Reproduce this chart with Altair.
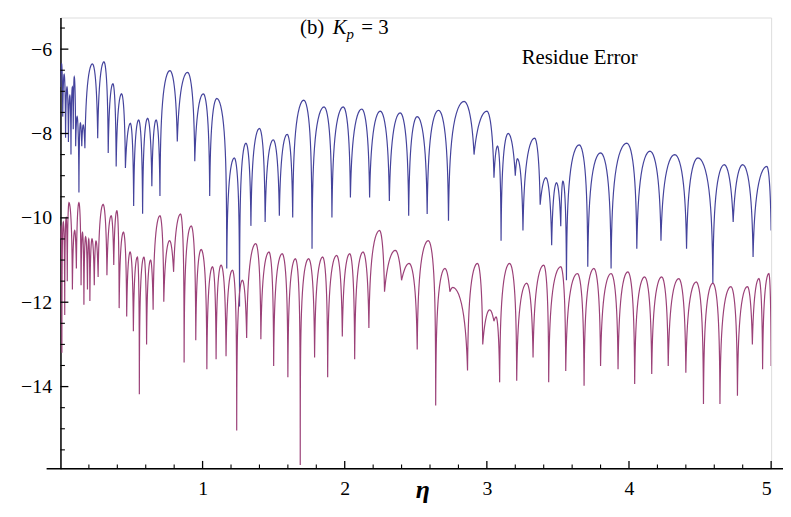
import altair as alt
import pandas as pd

# ---------------- data ----------------
# Blue curve: cusp (dip) positions / depths and the arch tops between them
blue_dip_x = [0.000, 0.016, 0.036, 0.056, 0.074, 0.090, 0.107, 0.130, 0.150, 0.172,
              0.262, 0.336, 0.392, 0.457, 0.515, 0.578, 0.643, 0.700, 0.822, 0.945,
              1.050, 1.170, 1.260, 1.340, 1.440, 1.540, 1.634, 1.770, 1.910, 2.040,
              2.175, 2.314, 2.450, 2.580, 2.730, 2.910, 3.050, 3.100, 3.200, 3.254,
              3.375, 3.456, 3.520, 3.560, 3.710, 3.874, 4.055, 4.225, 4.405, 4.590,
              4.733, 4.873, 5.000]
blue_dip_y = [-6.90, -7.60, -8.10, -8.20, -8.50, -7.90, -8.30, -9.40, -8.30, -8.35,
              -8.11, -8.46, -8.78, -8.82, -9.72, -9.90, -9.25, -9.48, -8.19, -8.66,
              -9.48, -11.20, -12.10, -10.19, -10.10, -9.95, -9.99, -10.73, -9.99, -9.52,
              -9.52, -9.60, -9.95, -9.91, -10.07, -8.50, -9.05, -10.54, -9.00, -10.30,
              -9.69, -10.65, -10.20, -11.48, -11.16, -11.20, -10.73, -10.54, -10.73, -11.55,
              -10.10, -10.93, -10.30]
blue_peak_x = [0.008, 0.026, 0.046, 0.066, 0.084, 0.097, 0.117, 0.140, 0.160, 0.225,
               0.306, 0.369, 0.430, 0.492, 0.550, 0.613, 0.673, 0.770, 0.894, 1.005,
               1.100, 1.223, 1.305, 1.400, 1.497, 1.595, 1.712, 1.855, 1.990, 2.120,
               2.250, 2.390, 2.510, 2.660, 2.840, 3.000, 3.075, 3.150, 3.215, 3.336,
               3.415, 3.490, 3.535, 3.650, 3.800, 3.985, 4.148, 4.322, 4.485, 4.670,
               4.800, 4.970]
blue_peak_y = [-6.35, -6.60, -6.90, -7.10, -6.90, -6.66, -7.60, -7.75, -7.80, -6.35,
               -6.30, -6.82, -7.06, -7.76, -7.68, -7.64, -7.68, -6.51, -6.55, -7.06,
               -7.17, -8.58, -8.23, -7.88, -8.15, -8.02, -7.21, -7.37, -7.37, -7.42,
               -7.47, -7.51, -7.60, -7.45, -7.24, -7.47, -8.30, -8.00, -8.60, -8.11,
               -9.05, -9.17, -9.13, -8.27, -8.46, -8.23, -8.42, -8.50, -8.58, -8.74,
               -8.74, -8.78]

# Purple curve
purple_dip_x = [0.000, 0.010, 0.030, 0.048, 0.084, 0.112, 0.145, 0.165, 0.190, 0.207,
                0.238, 0.265, 0.327, 0.375, 0.413, 0.466, 0.513, 0.555, 0.606, 0.652,
                0.727, 0.796, 0.870, 0.952, 1.030, 1.095, 1.165, 1.240, 1.310, 1.410,
                1.500, 1.600, 1.687, 1.788, 1.880, 1.983, 2.070, 2.170, 2.280, 2.400,
                2.510, 2.640, 2.740, 2.864, 2.971, 3.050, 3.090, 3.210, 3.325, 3.435,
                3.555, 3.684, 3.800, 3.923, 4.040, 4.160, 4.276, 4.400, 4.524, 4.640,
                4.763, 4.868, 4.940, 5.000]
purple_dip_y = [-10.50, -13.20, -12.30, -11.50, -11.70, -11.20, -11.60, -12.06, -11.70, -11.97,
                -11.60, -11.40, -11.36, -11.12, -12.14, -12.34, -12.69, -14.18, -13.00, -12.18,
                -11.99, -11.28, -13.43, -12.90, -13.59, -13.35, -13.28, -15.04, -12.85, -12.88,
                -13.51, -13.78, -15.86, -13.31, -13.78, -12.81, -13.35, -12.61, -11.75, -11.48,
                -13.12, -14.45, -11.75, -13.62, -13.00, -12.45, -13.90, -13.86, -13.31, -13.90,
                -13.63, -13.98, -13.51, -13.59, -13.94, -13.70, -13.51, -13.67, -14.41, -14.41,
                -14.22, -13.00, -13.59, -13.51]
purple_peak_x = [0.004, 0.020, 0.040, 0.060, 0.100, 0.130, 0.155, 0.177, 0.199, 0.222,
                 0.250, 0.300, 0.357, 0.397, 0.443, 0.490, 0.541, 0.587, 0.634, 0.700,
                 0.768, 0.845, 0.920, 0.990, 1.070, 1.130, 1.210, 1.280, 1.374, 1.467,
                 1.560, 1.653, 1.746, 1.845, 1.943, 2.035, 2.129, 2.245, 2.356, 2.453,
                 2.588, 2.705, 2.760, 2.934, 3.020, 3.065, 3.160, 3.280, 3.400, 3.520,
                 3.637, 3.753, 3.874, 3.992, 4.110, 4.230, 4.350, 4.473, 4.590, 4.717,
                 4.833, 4.914, 4.984]
purple_peak_y = [-10.20, -10.10, -10.00, -9.64, -10.30, -9.64, -10.35, -10.45, -10.50, -10.50,
                 -10.55, -9.68, -9.95, -9.83, -10.34, -10.81, -10.93, -10.93, -11.00, -9.95,
                 -10.54, -9.91, -10.19, -10.75, -11.16, -11.12, -11.24, -11.48, -10.61, -10.81,
                 -10.85, -10.97, -10.97, -10.93, -10.89, -10.85, -10.81, -10.30, -10.77, -11.08,
                 -10.54, -11.20, -11.65, -11.08, -12.18, -12.35, -11.08, -11.55, -11.12, -11.16,
                 -11.32, -11.20, -11.32, -11.28, -11.40, -11.40, -11.44, -11.52, -11.55, -11.63,
                 -11.63, -11.44, -11.32]

series_names = ["blue", "purple"]
series_colors = ["#44439c", "#9b4178"]

x_major = [1, 2, 3, 4, 5]
x_minor = [0.2, 0.4, 0.6, 0.8, 1.2, 1.4, 1.6, 1.8, 2.2, 2.4, 2.6, 2.8,
           3.2, 3.4, 3.6, 3.8, 4.2, 4.4, 4.6, 4.8]
y_major = [-14, -12, -10, -8, -6]
y_minor = [-15.5, -15, -14.5, -13.5, -13, -12.5, -11.5, -11, -10.5,
           -9.5, -9, -8.5, -7.5, -7, -6.5, -5.5]

W, H = 718, 456
X_DOMAIN = [0, 5]
Y_DOMAIN = [-15.95, -5.25]
SERIF = "Liberation Serif"

# ---------------- arch table (one row per arch between two cusps) ----------------
rows = []
for name, dx, dy, px, py in [("blue", blue_dip_x, blue_dip_y, blue_peak_x, blue_peak_y),
                             ("purple", purple_dip_x, purple_dip_y, purple_peak_x, purple_peak_y)]:
    for i in range(len(px)):
        rows.append({"series": name, "idx": i,
                     "x0": dx[i], "x1": dx[i + 1], "y0": dy[i], "y1": dy[i + 1],
                     "xp": px[i], "yp": py[i]})
arch_df = pd.DataFrame(rows)

# sampling of each arch (drawing resolution only)
half = [0, 0.001, 0.004, 0.01, 0.02, 0.035, 0.055, 0.08, 0.11, 0.15, 0.2, 0.26,
        0.33, 0.41, 0.5, 0.6, 0.7, 0.8, 0.9, 1.0]
samples = half + [round(2 - v, 4) for v in reversed(half[:-1])]
u_expr = "[" + ",".join(str(v) for v in samples) + "]"

xs = alt.Scale(domain=X_DOMAIN, nice=False, zero=False)
ys = alt.Scale(domain=Y_DOMAIN, nice=False, zero=False)

lines = (
    alt.Chart(arch_df)
    .transform_calculate(u=u_expr)
    .transform_flatten(["u"])
    .transform_calculate(
        e0="pow(10, (datum.y0 - datum.yp)/2)",
        e1="pow(10, (datum.y1 - datum.yp)/2)",
    )
    .transform_calculate(
        x="datum.u <= 1 ? datum.x0 + datum.u*(datum.xp - datum.x0) : datum.xp + (datum.u - 1)*(datum.x1 - datum.xp)",
        y="datum.u <= 1 ? datum.yp + 2*log(datum.e0 + (1 - datum.e0)*sin(PI/2*datum.u))/LN10 : datum.yp + 2*log(datum.e1 + (1 - datum.e1)*sin(PI/2*(2 - datum.u)))/LN10",
        k="datum.idx*3 + datum.u",
    )
    .mark_line(strokeWidth=1.2, clip=True)
    .encode(
        x=alt.X("x:Q", scale=xs,
                axis=alt.Axis(values=x_major, format="d", title=None, grid=False,
                              ticks=False, tickSize=0, domain=False,
                              labelFont=SERIF, labelFontSize=20, labelColor="black",
                              labelPadding=10)),
        y=alt.Y("y:Q", scale=ys,
                axis=alt.Axis(values=y_major, format="d", title=None, grid=False,
                              ticks=False, tickSize=0, domain=True, domainColor="black",
                              domainWidth=1.5, labelFont=SERIF, labelFontSize=20,
                              labelColor="black", labelPadding=9)),
        color=alt.Color("series:N", scale=alt.Scale(domain=series_names, range=series_colors),
                        legend=None),
        order=alt.Order("k:Q"),
        detail="series:N",
    )
)

x_axis_line = alt.Chart(pd.DataFrame({"v": [0]})).mark_rule(color="black", strokeWidth=1.5).encode(
    x=alt.value(-14), x2=alt.value(W + 12), y=alt.value(H))

xt_major = alt.Chart(pd.DataFrame({"v": x_major})).mark_rule(color="black", strokeWidth=1.3).encode(
    x=alt.X("v:Q", scale=xs), y=alt.value(H), y2=alt.value(H - 8))
xt_minor = alt.Chart(pd.DataFrame({"v": x_minor})).mark_rule(color="black", strokeWidth=1.1).encode(
    x=alt.X("v:Q", scale=xs), y=alt.value(H), y2=alt.value(H - 4.5))
yt_major = alt.Chart(pd.DataFrame({"v": y_major})).mark_rule(color="black", strokeWidth=1.3).encode(
    y=alt.Y("v:Q", scale=ys), x=alt.value(0), x2=alt.value(8))
yt_minor = alt.Chart(pd.DataFrame({"v": y_minor})).mark_rule(color="black", strokeWidth=1.1).encode(
    y=alt.Y("v:Q", scale=ys), x=alt.value(0), x2=alt.value(4.5))


def label(text, px, py, size=21, style="normal", weight="normal", align="left"):
    return alt.Chart(pd.DataFrame({"t": [text]})).mark_text(
        font=SERIF, fontSize=size, fontStyle=style, fontWeight=weight, align=align,
        baseline="alphabetic", color="black").encode(
        text="t:N", x=alt.value(px), y=alt.value(py))


annotations = [
    label("(b)", 242, 17),
    label("K", 275, 17, style="italic"),
    label("p", 289, 22, size=15, style="italic"),
    label("= 3", 304, 17),
    label("Residue Error", 466, 47),
    label("\u03b7", 366, 485, size=26, style="italic", weight="bold", align="center"),
]

chart = alt.layer(lines, x_axis_line, xt_major, xt_minor, yt_major, yt_minor, *annotations).properties(
    width=W, height=H,
    autosize=alt.AutoSizeParams(type="none"),
    padding={"left": 53, "top": 7, "right": 12, "bottom": 40},
).configure_view(stroke=None).configure(background="white")

chart.save("out.html", embed_options={"renderer": "svg", "actions": False})
